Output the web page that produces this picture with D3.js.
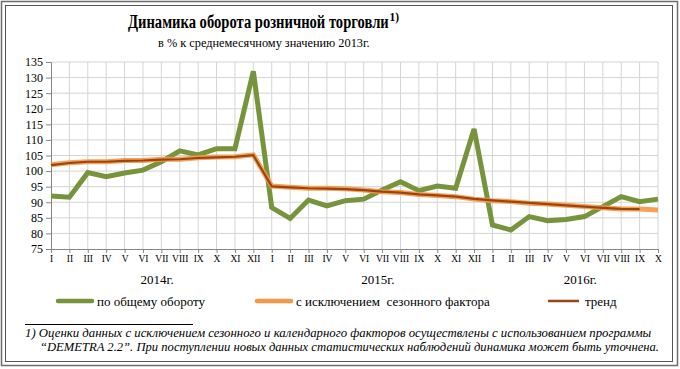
<!DOCTYPE html>
<html>
<head>
<meta charset="utf-8">
<script src="https://cdn.jsdelivr.net/npm/d3@7/dist/d3.min.js"></script>
<style>
    body { margin: 0; background: #fff; }
    svg text { font-family: "Liberation Serif", "Times New Roman", serif; fill: #000; }
</style>
</head>
<body>
<svg id="chart" width="680" height="369"></svg>
<script>
// months (roman numerals) and years
const romanMonths = ['I', 'II', 'III', 'IV', 'V', 'VI', 'VII', 'VIII', 'IX', 'X', 'XI', 'XII'];
const years = ['2014г.', '2015г.', '2016г.'];
const monthCount = 34; // Jan 2014 .. Oct 2016

// по общему обороту
const totalTurnover = [92.0, 91.6, 99.5, 98.2, 99.4, 100.3, 103.0, 106.5, 105.2, 107.2, 107.2, 132.0,
    88.3, 84.8, 90.7, 88.8, 90.5, 91.0, 93.9, 96.6, 93.7, 95.2, 94.5, 113.5,
    82.7, 81.1, 85.4, 84.1, 84.5, 85.4, 88.6, 91.8, 90.2, 91.0];

// с исключением сезонного фактора
const seasonAdjusted = [102.0, 102.7, 103.0, 103.0, 103.4, 103.4, 103.8, 103.8, 104.3, 104.5, 104.6, 105.2,
    95.2, 94.8, 94.5, 94.5, 94.3, 93.9, 93.4, 93.1, 92.5, 92.2, 91.8, 91.0,
    90.5, 90.2, 89.7, 89.4, 89.0, 88.6, 88.2, 87.8, 87.8, 87.5];

// тренд (ends at IX 2016)
const trend = [101.9, 102.6, 103.0, 103.0, 103.3, 103.4, 103.7, 103.8, 104.2, 104.4, 104.6, 105.1,
    95.1, 94.8, 94.5, 94.4, 94.2, 93.9, 93.4, 93.1, 92.5, 92.2, 91.8, 91.1,
    90.6, 90.2, 89.8, 89.4, 89.0, 88.6, 88.2, 87.9, 87.8];

const legendLabels = ['по общему обороту', 'с исключением  сезонного фактора', 'тренд'];
const colors = ['#77933c', '#f79646', '#984512'];

let svg = d3.select('#chart');

// squeeze a text horizontally so it spans the given width
function fitText(sel, x, y, width) {
    let w = sel.node().getComputedTextLength();
    sel.attr('transform', 'translate(' + x + ',' + y + ') scale(' + (width / w) + ',1)');
}

// double frame
svg.append('rect').attr('x', 1.5).attr('y', 1.5).attr('width', 676).attr('height', 364)
    .attr('fill', 'none').attr('stroke', '#6d6d6d').attr('stroke-width', 1.5);
svg.append('rect').attr('x', 5.5).attr('y', 5.5).attr('width', 667).attr('height', 356)
    .attr('fill', 'none').attr('stroke', '#555').attr('stroke-width', 1);

// title (+ footnote mark as its own text)
let title = svg.append('text')
    .style('font-size', '18px').style('font-weight', 'bold')
    .text('Динамика  оборота розничной торговли');
fitText(title, 128, 28, 261);
svg.append('text').attr('x', 389.5).attr('y', 21)
    .style('font-size', '11.5px').style('font-weight', 'bold').text('1)');

let subtitle = svg.append('text')
    .style('font-size', '13.5px').text('в % к среднемесячному значению 2013г.');
fitText(subtitle, 158, 47, 212);

// scales
let x = d3.scaleLinear().domain([0, monthCount - 1]).range([51, 658]);
let y = d3.scaleLinear().domain([75, 135]).range([249, 62]);

let idx = d3.range(monthCount);

// grid
let grid = svg.append('g');
grid.selectAll('.hg').data(d3.range(80, 136, 5)).enter().append('line')
    .attr('x1', x(0)).attr('x2', x(monthCount - 1))
    .attr('y1', d => y(d)).attr('y2', d => y(d))
    .attr('stroke', '#d4d4d4').attr('stroke-width', 1);
grid.selectAll('.vg').data(idx.slice(1)).enter().append('line')
    .attr('x1', d => x(d)).attr('x2', d => x(d))
    .attr('y1', y(75)).attr('y2', y(135))
    .attr('stroke', '#d4d4d4').attr('stroke-width', 1);

// axes
let yAxis = svg.append('g').attr('transform', 'translate(' + x(0) + ',0)')
    .call(d3.axisLeft(y).tickValues(d3.range(75, 136, 5)).tickSize(5).tickPadding(3));
let xAxis = svg.append('g').attr('transform', 'translate(0,' + y(75) + ')')
    .call(d3.axisBottom(x).tickValues(idx).tickSize(4).tickPadding(2)
        .tickFormat(i => romanMonths[i % 12]));
[yAxis, xAxis].forEach(function (a) {
    a.select('.domain').attr('stroke', '#868686');
    a.selectAll('.tick line').attr('stroke', '#868686');
    a.selectAll('text').style('font-family', '"Liberation Serif", serif').attr('fill', '#000');
});
yAxis.selectAll('text').style('font-size', '12px');
xAxis.selectAll('text').style('font-size', '9.5px');

// year labels
svg.selectAll('.year').data(years).enter().append('text')
    .attr('x', (d, i) => (x(i * 12) + x(Math.min(i * 12 + 11, monthCount - 1))) / 2 + 5)
    .attr('y', 284).attr('text-anchor', 'middle').style('font-size', '13px')
    .text(d => d);

// lines
let line = d3.line().x((d, i) => x(i)).y(d => y(d));
svg.append('path').datum(totalTurnover).attr('d', line)
    .attr('fill', 'none').attr('stroke', colors[0]).attr('stroke-width', 5)
    .attr('stroke-linejoin', 'miter');
svg.append('path').datum(seasonAdjusted).attr('d', line)
    .attr('fill', 'none').attr('stroke', colors[1]).attr('stroke-width', 5).attr('stroke-opacity', 0.9);
svg.append('path').datum(trend).attr('d', line)
    .attr('fill', 'none').attr('stroke', colors[2]).attr('stroke-width', 2.2);

// legend
let legendX = [[58, 92, 97], [257, 291, 296], [548, 579, 585]];
let widths = [4.5, 4.5, 2.5];
let legend = svg.append('g');
legendLabels.forEach(function (label, i) {
    legend.append('line').attr('x1', legendX[i][0]).attr('x2', legendX[i][1])
        .attr('y1', 301).attr('y2', 301)
        .attr('stroke', colors[i]).attr('stroke-width', widths[i])
        .attr('stroke-linecap', i < 2 ? 'round' : 'butt');
    legend.append('text').attr('x', legendX[i][2]).attr('y', 305.5)
        .style('font-size', '13px').style('white-space', 'pre').text(label);
});

// footnote
svg.append('line').attr('x1', 25).attr('x2', 193).attr('y1', 324.5).attr('y2', 324.5)
    .attr('stroke', '#000').attr('stroke-width', 1);
let foot1 = svg.append('text').style('font-size', '12px').style('font-style', 'italic')
    .text('1) Оценки данных с исключением сезонного и календарного факторов осуществлены с использованием  программы');
fitText(foot1, 25, 337, 627);
let foot2 = svg.append('text').style('font-size', '12px').style('font-style', 'italic')
    .text('“DEMETRA 2.2”. При поступлении новых данных статистических наблюдений динамика может быть уточнена.');
fitText(foot2, 40, 351, 620);
</script>
</body>
</html>
